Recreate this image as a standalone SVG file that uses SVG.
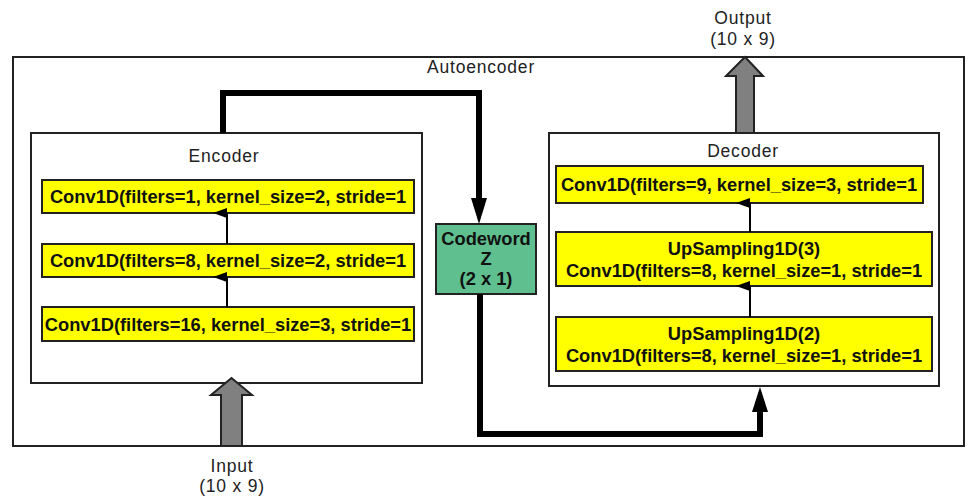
<svg xmlns="http://www.w3.org/2000/svg" width="970" height="497" viewBox="0 0 970 497">
  <defs>
    <marker id="headSmall" markerWidth="10" markerHeight="14" refX="5" refY="14" orient="auto-start-reverse" markerUnits="userSpaceOnUse" viewBox="0 0 10 14">
      <path d="M0,14 L5,0 L10,14 Z" fill="#000"/>
    </marker>
  </defs>
  <style>
    .frame { fill: #fff; stroke: #222; stroke-width: 2; }
    .layer { fill: #ffff00; stroke: #222; stroke-width: 2; }
    .code { fill: #5fbf8f; stroke: #222; stroke-width: 2; }
    .title { font-family: "Liberation Sans", Arial, sans-serif; font-size: 17.5px; fill: #222; text-anchor: middle; letter-spacing: 0.8px; }
    .lbl { font-family: "Liberation Sans", Arial, sans-serif; font-size: 18.3px; font-weight: bold; fill: #111; text-anchor: middle; }
    .thin { stroke: #000; stroke-width: 2; fill: none; }
    .thick { stroke: #000; stroke-width: 6; fill: none; }
    .fat { fill: #808080; stroke: #222; stroke-width: 2; }
  </style>

  <!-- outer autoencoder frame -->
  <g id="autoencoder">
    <rect class="frame" x="13" y="57" width="951" height="389"/>
    <text class="title" x="481" y="73">Autoencoder</text>
  </g>

  <!-- encoder -->
  <g id="encoder">
    <rect class="frame" x="31" y="133" width="391" height="250"/>
    <text class="title" x="224" y="162">Encoder</text>
  </g>
  <g id="enc-conv1">
    <rect class="layer" x="42" y="180" width="372" height="33"/>
    <text class="lbl" x="228" y="203">Conv1D(filters=1, kernel_size=2, stride=1</text>
  </g>
  <g id="enc-conv2">
    <rect class="layer" x="42" y="244" width="372" height="33"/>
    <text class="lbl" x="228" y="267">Conv1D(filters=8, kernel_size=2, stride=1</text>
  </g>
  <g id="enc-conv3">
    <rect class="layer" x="42" y="307" width="372" height="34"/>
    <text class="lbl" x="228" y="331">Conv1D(filters=16, kernel_size=3, stride=1</text>
  </g>

  <!-- codeword -->
  <g id="codeword">
    <rect class="code" x="436" y="224" width="100" height="70"/>
    <text class="lbl" x="486" y="245">Codeword</text>
    <text class="lbl" x="486" y="265">Z</text>
    <text class="lbl" x="486" y="285">(2 x 1)</text>
  </g>

  <!-- decoder -->
  <g id="decoder">
    <rect class="frame" x="549" y="133" width="390" height="253"/>
    <text class="title" x="743" y="157">Decoder</text>
  </g>
  <g id="dec-conv">
    <rect class="layer" x="556" y="166" width="367" height="37"/>
    <text class="lbl" x="739" y="191">Conv1D(filters=9, kernel_size=3, stride=1</text>
  </g>
  <g id="dec-up3">
    <rect class="layer" x="556" y="232" width="376" height="54"/>
    <text class="lbl" x="744" y="255">UpSampling1D(3)</text>
    <text class="lbl" x="744" y="277">Conv1D(filters=8, kernel_size=1, stride=1</text>
  </g>
  <g id="dec-up2">
    <rect class="layer" x="556" y="317" width="376" height="54"/>
    <text class="lbl" x="744" y="340">UpSampling1D(2)</text>
    <text class="lbl" x="744" y="362">Conv1D(filters=8, kernel_size=1, stride=1</text>
  </g>

  <!-- input / output -->
  <g id="input">
    <polygon class="fat" points="221,446 221,395 211,395 231.5,378 252,395 242,395 242,446"/>
    <text class="title" x="232" y="472">Input</text>
    <text class="title" x="232" y="492">(10 x 9)</text>
  </g>
  <g id="output">
    <polygon class="fat" points="736,133 736,76 726,76 745,57 763,76 754,76 754,133"/>
    <text class="title" x="743" y="24">Output</text>
    <text class="title" x="743" y="45">(10 x 9)</text>
  </g>

  <!-- connectors -->
  <g id="connectors">
    <line class="thin" x1="227" y1="244" x2="227" y2="213" marker-end="url(#headSmall)"/>
    <line class="thin" x1="227" y1="307" x2="227" y2="277" marker-end="url(#headSmall)"/>
    <line class="thin" x1="750" y1="232" x2="750" y2="203" marker-end="url(#headSmall)"/>
    <line class="thin" x1="750" y1="317" x2="750" y2="286" marker-end="url(#headSmall)"/>
    <polyline class="thick" points="223,133 223,93 479,93 479,200"/>
    <polygon points="471,198 487,198 479,224" fill="#000"/>
    <polyline class="thick" points="480,294 480,434 760,434 760,410"/>
    <polygon points="752,412 768,412 760,387" fill="#000"/>
  </g>
</svg>
